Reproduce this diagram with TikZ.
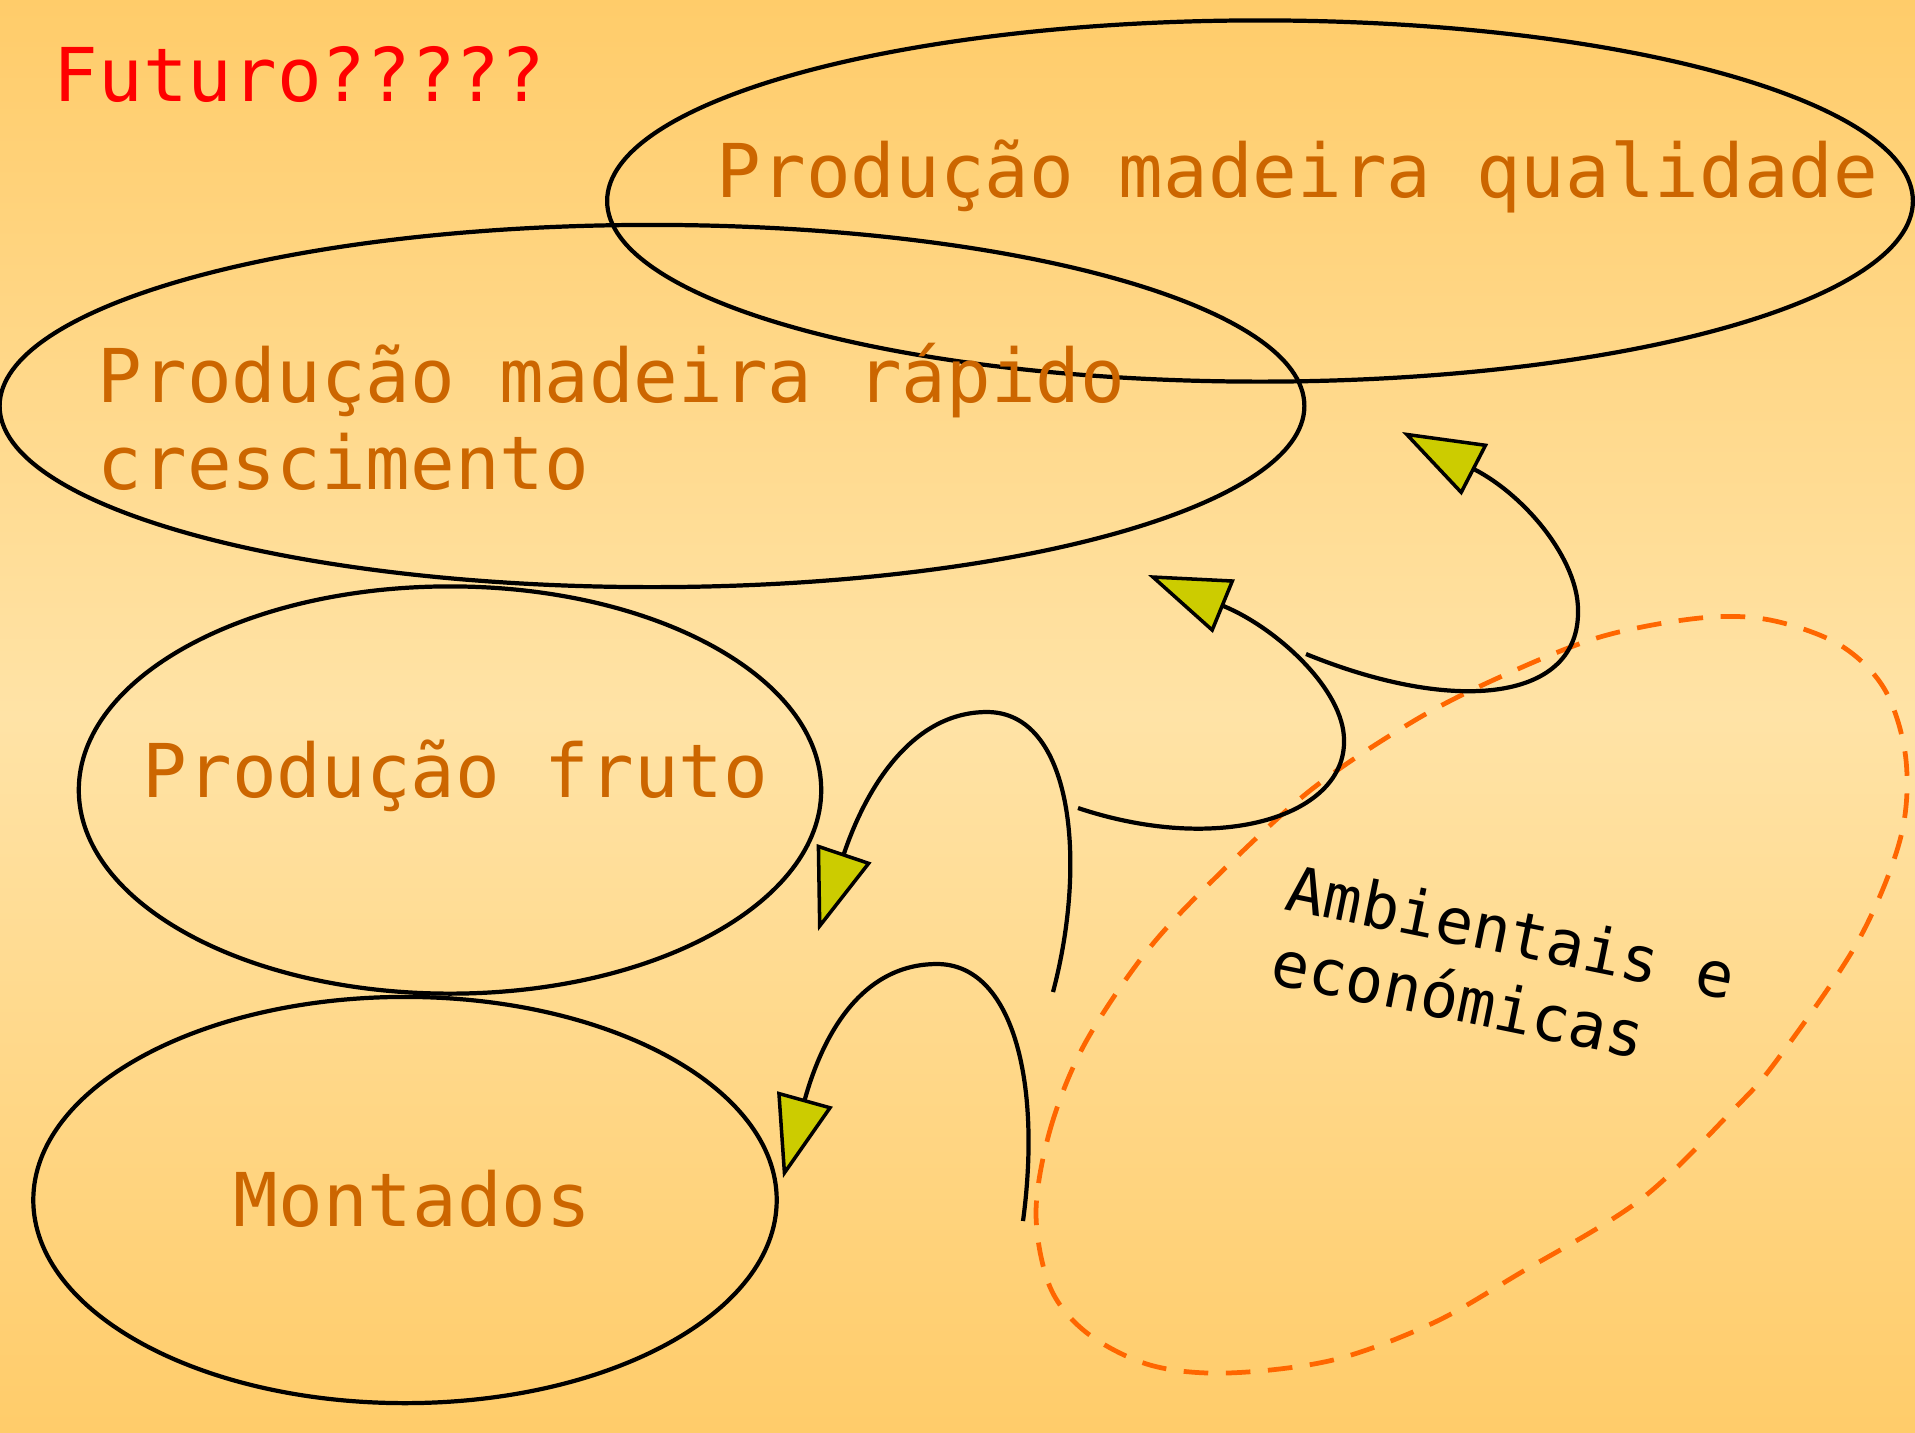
\documentclass[tikz,border=0pt]{standalone}
\usepackage{fontspec}
\usetikzlibrary{arrows.meta,shapes.geometric}
\newfontfamily\slidefont{DejaVu Sans Mono}
\definecolor{bgedge}{HTML}{FFCC6A}
\definecolor{bgmid}{HTML}{FFE3A6}
\definecolor{txtorange}{HTML}{CC6600}
\definecolor{dashorange}{HTML}{FF6600}
\definecolor{tipfill}{HTML}{CCCC00}
\tikzset{
	blob/.style={draw,ellipse,line width=1.2pt,inner sep=0pt},
	lbl/.style={anchor=base west,inner sep=0pt,text=txtorange,font=\slidefont\fontsize{21.1pt}{24.5pt}\selectfont},
	amb/.style={anchor=base west,inner sep=0pt,rotate=-11.5,align=left,font=\slidefont\fontsize{17.9pt}{21.5pt}\selectfont},
	curvearrow/.style={line width=1.2pt,-{Triangle[length=8.2mm,width=5.7mm,fill=tipfill,line width=1pt]}}
}
\begin{document}
\begin{tikzpicture}[x=0.01cm,y=-0.01cm]
		\useasboundingbox (0,0) rectangle (1915,1432);
		\shade[top color=bgedge,bottom color=bgedge,middle color=bgmid] (0,0) rectangle (1915,1432);
		% ellipses
		\node[blob,minimum width=13.05cm,minimum height=3.61cm] (qualidade) at (1260,201) {};
		\node[blob,minimum width=13.04cm,minimum height=3.62cm] (rapido) at (652,406) {};
		\node[blob,minimum width=7.42cm,minimum height=4.07cm] (fruto) at (450,790) {};
		\node[blob,minimum width=7.43cm,minimum height=4.06cm] (montados) at (405,1200) {};
		% texts
		\node[lbl,text=red] (futuro) at (53,101) {Futuro?????};
		\node[lbl] (qualidadetxt) at (716,197) {Produção madeira qualidade};
		\node[lbl,align=left] (rapidotxt) at (97,489) {Produção madeira rápido\\crescimento};
		\node[lbl] (frutotxt) at (142,797) {Produção fruto};
		\node[lbl] (montadostxt) at (233,1226) {Montados};
		\node[amb] (ambientais) at (1268,983) {Ambientais e\\económicas};
		% dashed region
		\draw[dashorange,line width=1.35pt,dash pattern=on 7pt off 5pt] plot[smooth cycle,tension=.55] coordinates {
			(1036,1213) (1050,1130) (1083,1047) (1140,960) (1200,893) (1307,793) (1412,722) (1500,677)
			(1600,637) (1700,618) (1770,620) (1840,645) (1885,690) (1906,760) (1900,840) (1857,943)
			(1777,1060) (1733,1110) (1640,1200) (1520,1273) (1433,1323) (1333,1360) (1227,1373)
			(1150,1365) (1087,1333) (1050,1287)};
		% arrows
		\coordinate (a1) at (1306,654);
		\coordinate (a2) at (1578,610);
		\coordinate (a3) at (1402,432);
		\coordinate (b1) at (1078,808);
		\coordinate (b2) at (1344,740);
		\coordinate (b3) at (1148,575);
		\coordinate (c1) at (1053,992);
		\coordinate (c2) at (987,712);
		\coordinate (c3) at (818,931);
		\coordinate (d1) at (1023,1221);
		\coordinate (d2) at (937,964);
		\coordinate (d3) at (783,1178);
		\draw[curvearrow] (a1) .. controls (1458,716) and (1580,700) .. (a2) .. controls (1578,560) and (1526,496) .. (a3);
		\draw[curvearrow] (b1) .. controls (1222,856) and (1346,815) .. (b2) .. controls (1344,690) and (1277,628) .. (b3);
		\draw[curvearrow] (c1) .. controls (1088,860) and (1072,712) .. (c2) .. controls (912,712) and (866,788) .. (c3);
		\draw[curvearrow] (d1) .. controls (1042,1080) and (1012,964) .. (d2) .. controls (862,964) and (823,1034) .. (d3);
		\end{tikzpicture}
\end{document}
